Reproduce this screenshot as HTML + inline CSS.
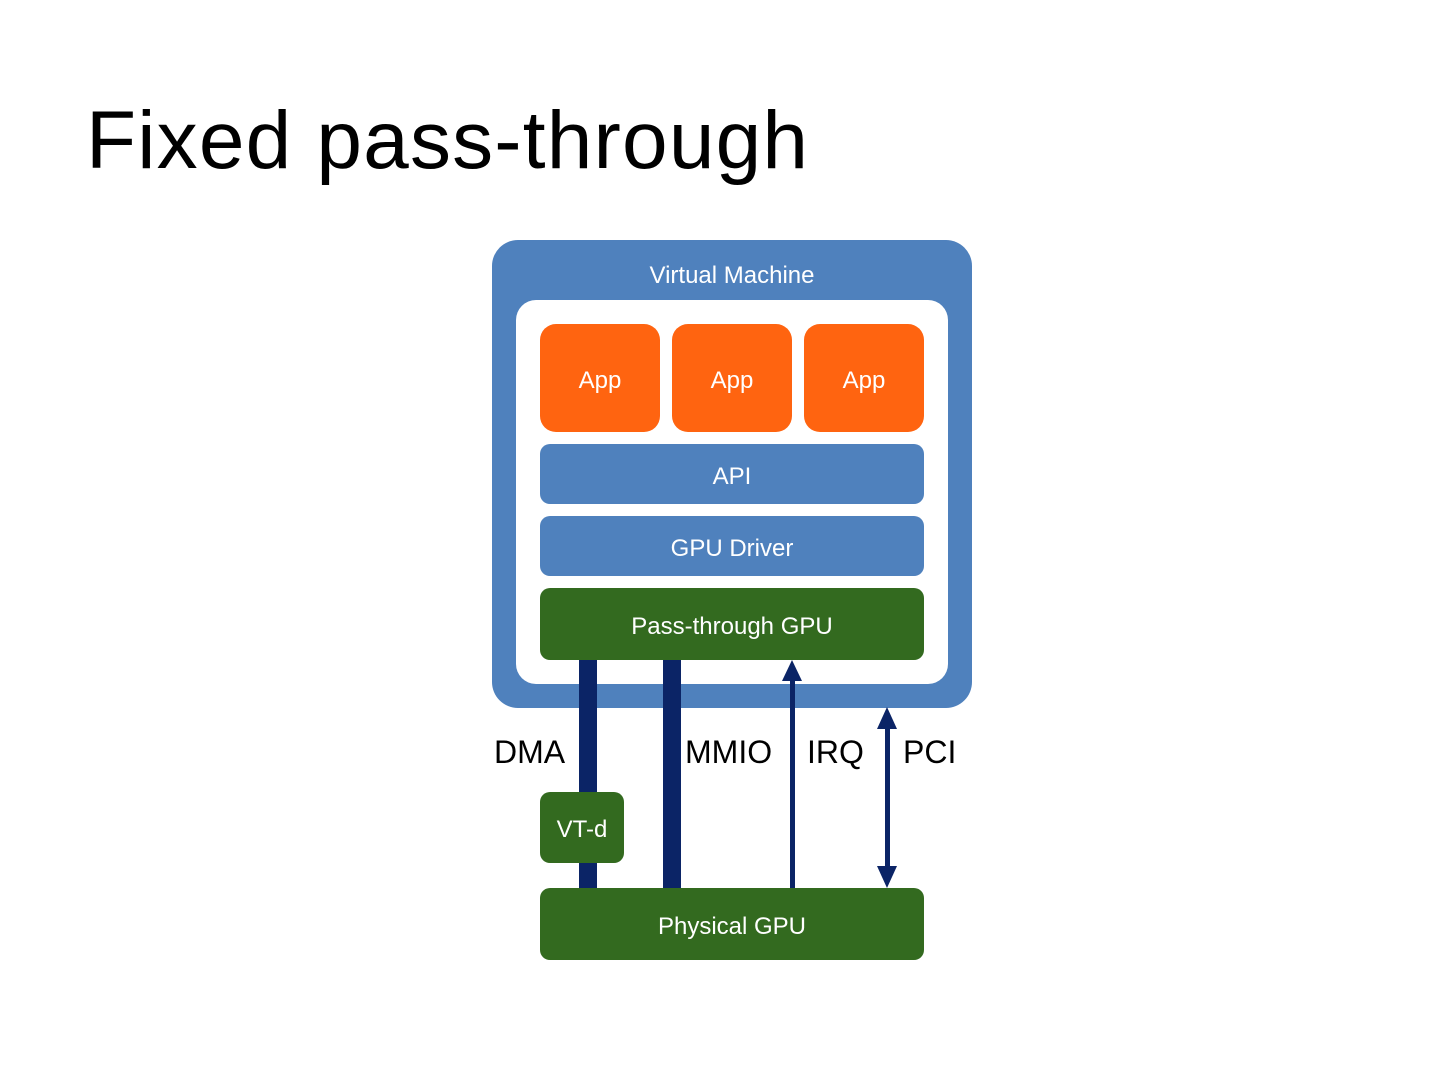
<!DOCTYPE html>
<html><head><style>
html,body{margin:0;padding:0;background:#fff;}
svg{display:block;}
text{font-family:"Liberation Sans",sans-serif;}
</style></head><body>
<svg width="1440" height="1080" viewBox="0 0 1440 1080" xmlns="http://www.w3.org/2000/svg">
<text x="86" y="168" font-size="82" fill="#000" textLength="722" lengthAdjust="spacing">Fixed pass-through</text>
<rect x="492" y="240" width="480" height="468" rx="26" fill="#4f81bd"/>
<text x="732" y="283" font-size="24" fill="#fff" text-anchor="middle">Virtual Machine</text>
<rect x="516" y="300" width="432" height="384" rx="20" fill="#fff"/>
<rect x="540" y="324" width="120" height="108" rx="16" fill="#ff6410"/>
<rect x="672" y="324" width="120" height="108" rx="16" fill="#ff6410"/>
<rect x="804" y="324" width="120" height="108" rx="16" fill="#ff6410"/>
<g fill="#fff" font-size="24" text-anchor="middle">
<text x="600" y="388">App</text><text x="732" y="388">App</text><text x="864" y="388">App</text>
</g>
<rect x="540" y="444" width="384" height="60" rx="10" fill="#4f81bd"/>
<text x="732" y="484" font-size="24" fill="#fff" text-anchor="middle">API</text>
<rect x="540" y="516" width="384" height="60" rx="10" fill="#4f81bd"/>
<text x="732" y="556" font-size="24" fill="#fff" text-anchor="middle">GPU Driver</text>
<rect x="540" y="588" width="384" height="72" rx="10" fill="#336a1f"/>
<text x="732" y="634" font-size="24" fill="#fff" text-anchor="middle">Pass-through GPU</text>
<rect x="579" y="660" width="18" height="228" fill="#0b2466"/>
<rect x="663" y="660" width="18" height="228" fill="#0b2466"/>
<rect x="790" y="678" width="5" height="210" fill="#0b2466"/>
<polygon points="792,660 782,681 802,681" fill="#0b2466"/>
<rect x="885" y="725" width="5" height="145" fill="#0b2466"/>
<polygon points="887,707 877,729 897,729" fill="#0b2466"/>
<polygon points="887,888 877,866 897,866" fill="#0b2466"/>
<g font-size="32" fill="#000">
<text x="494" y="763">DMA</text><text x="685" y="763">MMIO</text>
<text x="807" y="763">IRQ</text><text x="903" y="763">PCI</text>
</g>
<rect x="540" y="792" width="84" height="71" rx="10" fill="#336a1f"/>
<text x="582" y="837" font-size="24" fill="#fff" text-anchor="middle">VT-d</text>
<rect x="540" y="888" width="384" height="72" rx="10" fill="#336a1f"/>
<text x="732" y="934" font-size="24" fill="#fff" text-anchor="middle">Physical GPU</text>
</svg>
</body></html>
